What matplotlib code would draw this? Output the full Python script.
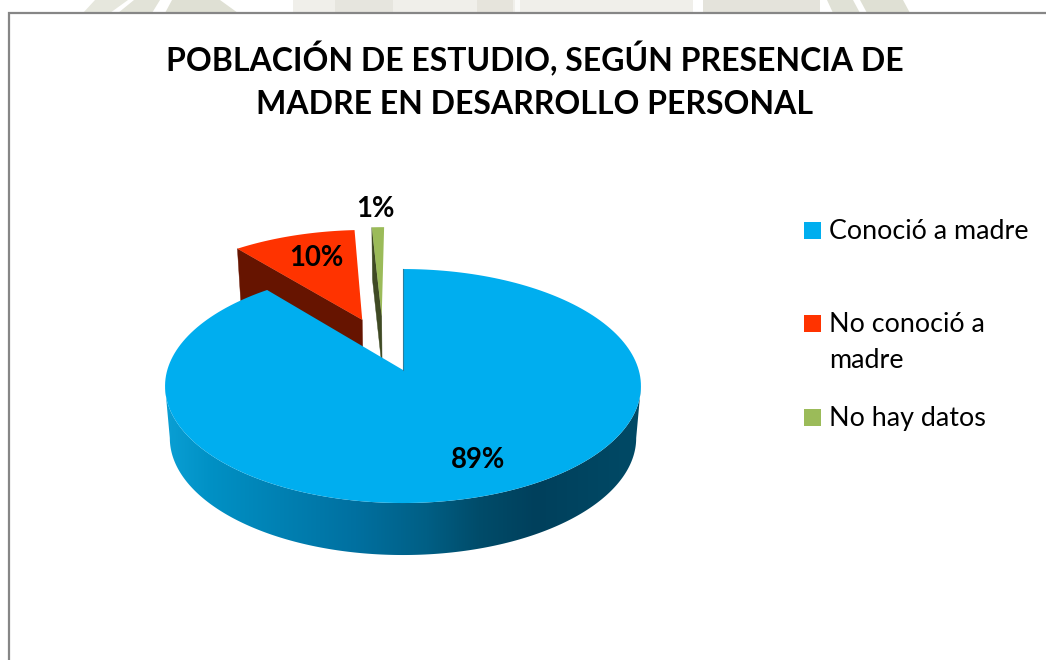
import numpy as np
import matplotlib
matplotlib.use('Agg')
import matplotlib.pyplot as plt
from matplotlib.patches import Polygon, Rectangle
from matplotlib.colors import LinearSegmentedColormap

plt.rcParams['font.family'] = ['Lato', 'DejaVu Sans']

# data
title_lines = ['POBLACIÓN DE ESTUDIO, SEGÚN PRESENCIA DE', 'MADRE EN DESARROLLO PERSONAL']
categories = ['Conoció a madre', 'No conoció a\nmadre', 'No hay datos']
values = [89, 10, 1]
value_labels = ['89%', '10%', '1%']

colors = ['#00AEEF', '#FF3300', '#9BBB59']
dark_colors = ['#00405C', '#661400', '#3F4A24']

# pie geometry in pixels, the image is 1046x660
cx, cy = 403, 370
a, b = 235.7, 114.8
persp = 0.137
depth = 52
bottom_shrink = 0.98
explode = [(0, 0), (-0.184, 0.465), (-0.0966, 0.5)]
label_pos = [(478, 460), (316, 258), (375, 209)]


def project(x, y, low=False):
    s = 1 / (1 + persp * y)
    px = a * x * s
    py = cy - b * y * s
    if low:
        return cx + px * bottom_shrink, py + depth
    return cx + px, py


def wedge(start, stop, off, low=False, n=200):
    # angles go clockwise from 12 o'clock
    t = np.radians(np.linspace(start, stop, n))
    xs = np.concatenate([[off[0]], off[0] + np.sin(t)])
    ys = np.concatenate([[off[1]], off[1] + np.cos(t)])
    return np.column_stack(project(xs, ys, low))


fig = plt.figure(figsize=(10.46, 6.6), dpi=100)
ax = fig.add_axes([0, 0, 1, 1])

# faint watermark above the frame
for pts, col in [
    ([(83, 13), (95, 0), (128, 0), (110, 13)], '#E6E7DD'),
    ([(118, 13), (134, 0), (160, 0), (152, 13)], '#E2E3D8'),
    ([(165, 13), (172, 0), (220, 0), (238, 13)], '#DFE0D4'),
    ([(293, 13), (293, 0), (693, 0), (693, 13)], '#F0EFEA'),
    ([(335, 13), (335, 0), (393, 0), (393, 13)], '#E6E5DE'),
    ([(477, 13), (477, 0), (513, 0), (513, 13)], '#E6E4DC'),
    ([(515, 13), (515, 0), (520, 0), (520, 13)], '#FAFAF8'),
    ([(703, 13), (703, 0), (820, 0), (820, 13)], '#E4E3DB'),
    ([(833, 13), (827, 0), (853, 0), (860, 13)], '#E0E1D6'),
    ([(867, 13), (860, 0), (903, 0), (910, 13)], '#DFE0D4'),
]:
    ax.add_patch(Polygon(pts, closed=True, fc=col, ec='none', zorder=0))

# chart frame runs off the right and bottom edges
ax.plot([9, 9, 1046], [660, 13, 13], color='#868686', lw=1.6, zorder=1, solid_joinstyle='miter')

# slice angles from the values
total = sum(values)
edges = np.concatenate([[0], np.cumsum(values)]) * 360 / total

# red and green go behind the blue top
for i in [1, 2]:
    start, stop = edges[i], edges[i + 1]
    t = np.radians(start)
    off = explode[i]
    outer = (off[0] + np.sin(t), off[1] + np.cos(t))
    face = [project(*outer), project(*off), project(*off, low=True), project(*outer, low=True)]
    ax.add_patch(Polygon(face, closed=True, fc=dark_colors[i], ec=dark_colors[i], lw=0.3, zorder=2 + i))
    ax.add_patch(Polygon(wedge(start, stop, off), closed=True, fc=colors[i], ec='none', zorder=3 + i))

# gradient around the rim of the blue slice, clipped to the rim shape
side_cmap = LinearSegmentedColormap.from_list('side', [
    (0.0, '#0A9FD4'), (0.1, '#0090C4'), (0.4, '#0070A0'), (0.55, '#005F85'),
    (0.66, '#004C6A'), (0.78, '#00405C'), (1.0, '#004A66')])
# silhouette ends where the perspective ellipse is widest
t_edge = np.degrees(np.arccos(-persp))
t = np.radians(np.linspace(t_edge, 360 - t_edge, 400))
top_pts = np.column_stack(project(np.sin(t), np.cos(t)))
low_pts = np.column_stack(project(np.sin(t), np.cos(t), low=True))
rim = Polygon(np.vstack([top_pts, low_pts[::-1]]), closed=True, fc='none', ec='none')
ax.add_patch(rim)
x_lo, x_hi = top_pts[:, 0].min(), top_pts[:, 0].max()
grad = ax.imshow(np.linspace(0, 1, 256)[None, :], cmap=side_cmap, aspect='auto',
                 extent=(x_lo, x_hi, 600, 300), zorder=6)
grad.set_clip_path(rim)

ax.add_patch(Polygon(wedge(edges[0], edges[1], explode[0]), closed=True, fc=colors[0], ec='none', zorder=7))
ax.plot([cx - 0.5, cx - 0.5], [project(0, 1)[1], cy], color='#2A7E9E', lw=0.8, zorder=7)

ax.set_xlim(0, 1046)
ax.set_ylim(660, 0)
ax.axis('off')

# value labels
for lab, (lx, ly) in zip(value_labels, label_pos):
    ax.text(lx, ly, lab, fontsize=19.8, fontweight='bold', color='black', ha='center', va='center', zorder=8)

# title
for line, y in zip(title_lines, [59, 104]):
    ax.text(535, y, line, fontsize=23.05, fontweight='bold', color='black',
            ha='center', va='center', zorder=8)

# legend
leg_y = [230, 323, 417]
for cat, col, y in zip(categories, colors, leg_y):
    ax.add_patch(Rectangle((804, y - 8.5), 17, 17, fc=col, ec='none', zorder=8))
    ax.text(829, y - 11, cat, fontsize=19.4, color='black', ha='left', va='top', linespacing=1.55, zorder=8)

fig.savefig('out.png', dpi=100)
